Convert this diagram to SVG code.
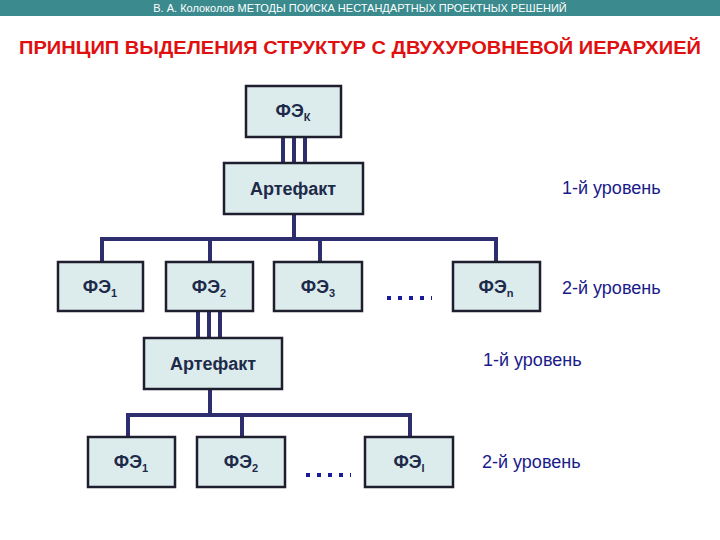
<svg xmlns="http://www.w3.org/2000/svg" width="720" height="540" viewBox="0 0 720 540">
<style>
.box{fill:#dcecec;stroke:#1e1e2e;stroke-width:2.5}
.t{font-family:"Liberation Sans",Arial,sans-serif;font-weight:bold;font-size:18px;fill:#1e2a4a;text-anchor:middle}
.s{font-size:11px}
.lv{font-family:"Liberation Sans",Arial,sans-serif;font-size:18px;fill:#1a1a8a}
.ln{stroke:#2e2e6e;stroke-width:4;fill:none}
.dots{stroke:#1a1a9a;stroke-width:4;stroke-dasharray:4 7}
</style>
<rect x="0" y="0" width="720" height="16" fill="#3a8a8e"/>
<text x="360" y="12" font-family="Liberation Sans,Arial,sans-serif" font-size="11" fill="#ffffff" text-anchor="middle">В. А. Колоколов МЕТОДЫ ПОИСКА НЕСТАНДАРТНЫХ ПРОЕКТНЫХ РЕШЕНИЙ</text>
<text x="360" y="54" font-family="Liberation Sans,Arial,sans-serif" font-weight="bold" font-size="18.5" fill="#e01010" text-anchor="middle" textLength="682" lengthAdjust="spacingAndGlyphs">ПРИНЦИП ВЫДЕЛЕНИЯ СТРУКТУР С ДВУХУРОВНЕВОЙ ИЕРАРХИЕЙ</text>
<g id="connectors">
<path class="ln" d="M283 137V163M294 137V163M305 137V163"/>
<path class="ln" d="M294 214V239M102 262V239H496V262M210 239V262M320 239V262"/>
<path class="ln" d="M198 311V338M209 311V338M220 311V338"/>
<path class="ln" d="M210 389V415M128 437V415H410V437M242 415V437"/>
</g>
<g id="fek"><rect class="box" x="246" y="86" width="95" height="51"/><text class="t" x="293" y="117">ФЭ<tspan class="s" dy="4">К</tspan></text></g>
<g id="art1"><rect class="box" x="224" y="163" width="139" height="51"/><text class="t" x="293" y="195">Артефакт</text></g>
<g id="fe1"><rect class="box" x="58" y="262" width="85" height="49"/><text class="t" x="100" y="293">ФЭ<tspan class="s" dy="4">1</tspan></text></g>
<g id="fe2"><rect class="box" x="166" y="262" width="87" height="49"/><text class="t" x="209" y="293">ФЭ<tspan class="s" dy="4">2</tspan></text></g>
<g id="fe3"><rect class="box" x="274" y="262" width="88" height="49"/><text class="t" x="318" y="293">ФЭ<tspan class="s" dy="4">3</tspan></text></g>
<line class="dots" x1="387" y1="298" x2="432" y2="298"/>
<g id="fen"><rect class="box" x="453" y="262" width="87" height="49"/><text class="t" x="496" y="293">ФЭ<tspan class="s" dy="4">n</tspan></text></g>
<g id="art2"><rect class="box" x="144" y="338" width="138" height="51"/><text class="t" x="213" y="370">Артефакт</text></g>
<g id="fe21"><rect class="box" x="88" y="437" width="87" height="50"/><text class="t" x="131" y="468">ФЭ<tspan class="s" dy="4">1</tspan></text></g>
<g id="fe22"><rect class="box" x="197" y="437" width="88" height="50"/><text class="t" x="241" y="468">ФЭ<tspan class="s" dy="4">2</tspan></text></g>
<line class="dots" x1="306" y1="475" x2="351" y2="475"/>
<g id="fel"><rect class="box" x="365" y="437" width="88" height="50"/><text class="t" x="409" y="468">ФЭ<tspan class="s" dy="4">l</tspan></text></g>
<text class="lv" x="562" y="194">1-й уровень</text>
<text class="lv" x="562" y="294">2-й уровень</text>
<text class="lv" x="483" y="366">1-й уровень</text>
<text class="lv" x="482" y="468">2-й уровень</text>
</svg>
